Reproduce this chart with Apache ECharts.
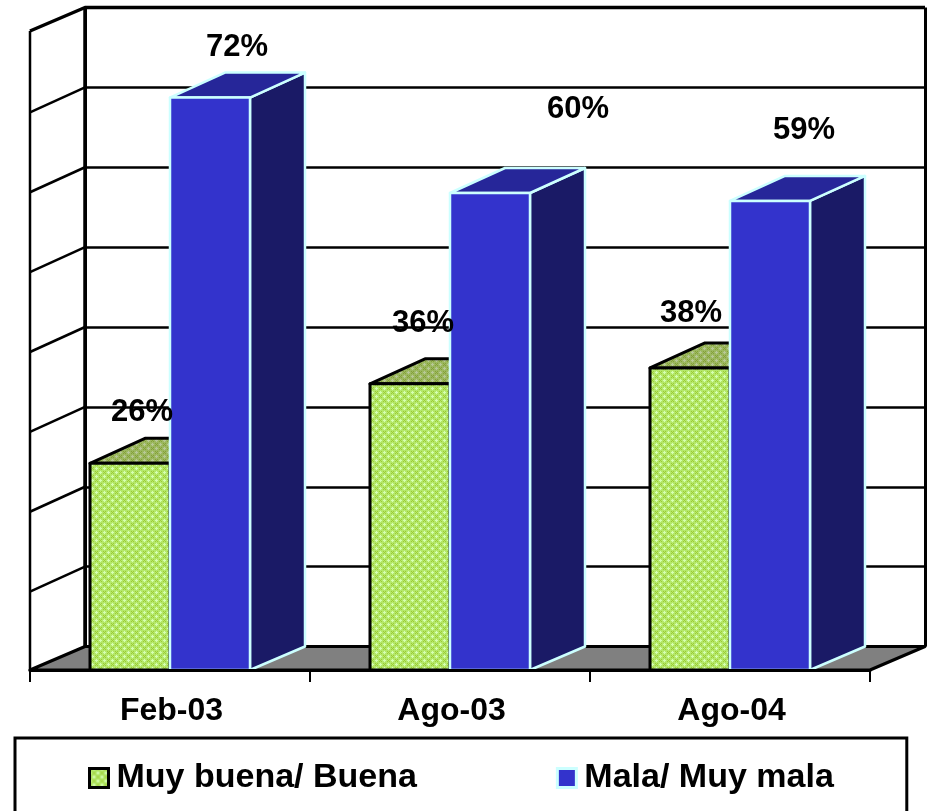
<!DOCTYPE html>
<html>
<head>
<meta charset="utf-8">
<style>html,body{margin:0;padding:0;background:#fff}#c{width:931px;height:811px}</style>
<script src="https://cdn.jsdelivr.net/npm/echarts@6/dist/echarts.min.js"></script>
</head>
<body>
<div id="c"></div>
<script>
const categories = ['Feb-03', 'Ago-03', 'Ago-04'];
const muyBuena = [26, 36, 38];
const mala = [72, 60, 59];
const seriesNames = ['Muy buena/ Buena', 'Mala/ Muy mala'];
const wallTicks = [10, 20, 30, 40, 50, 60, 70];

const FONT = '"Liberation Sans", Arial, sans-serif';
const DX = 55, DY_TOP = 25, DY_BASE = 23.5, BAR_W = 80;

function makePattern(base, lattice, dot) {
  const p = 8, cv = document.createElement('canvas');
  cv.width = p; cv.height = p;
  const g = cv.getContext('2d');
  g.fillStyle = base; g.fillRect(0, 0, p, p);
  g.fillStyle = lattice;
  [[0,0],[4,4],[1,1],[3,3],[5,5],[7,7],[1,7],[3,5],[5,3],[7,1]].forEach(a => g.fillRect(a[0], a[1], 1, 1));
  g.fillStyle = dot;
  [[4,0],[3,0],[5,0],[4,1],[4,7],[0,4],[1,4],[7,4],[0,3],[0,5]].forEach(a => g.fillRect(a[0], a[1], 1, 1));
  return { image: cv, repeat: 'repeat' };
}
const greenFront = makePattern('#b4e86a', '#9ccc33', '#d6ffb4');
const greenTop = makePattern('#9cb860', '#84a038', '#b8c898');

function bar3d(offsetDir, colors, line, lw) {
  return function (params, api) {
    const top = api.coord([api.value(0), api.value(1)]);
    const base = api.coord([api.value(0), 0]);
    const x0 = offsetDir < 0 ? top[0] - BAR_W : top[0];
    const x1 = x0 + BAR_W;
    const sh = { stroke: line, lineWidth: lw, lineJoin: 'round' };
    return {
      type: 'group',
      children: [
        { type: 'polygon', shape: { points: [[x1, top[1]], [x1 + DX, top[1] - DY_TOP], [x1 + DX, base[1] - DY_BASE], [x1, base[1]]] },
          style: Object.assign({ fill: colors[2] }, sh) },
        { type: 'polygon', shape: { points: [[x0, top[1]], [x0 + DX, top[1] - DY_TOP], [x1 + DX, top[1] - DY_TOP], [x1, top[1]]] },
          style: Object.assign({ fill: colors[1] }, sh) },
        { type: 'rect', shape: { x: x0, y: top[1], width: x1 - x0, height: base[1] - top[1] },
          style: Object.assign({ fill: colors[0] }, sh) }
      ]
    };
  };
}

const labelOffsets = [
  [[12, -51], [13, -60], [1, -54]],
  [[27, -50], [88, -84], [34, -70]]
];

const chart = echarts.init(document.getElementById('c'), null, { renderer: 'canvas' });
chart.setOption({
  animation: false,
  backgroundColor: '#fff',
  grid: [
    { left: 30, top: 34, width: 840, height: 636 },
    { left: 85, top: 7.5, width: 840, height: 639 }
  ],
  xAxis: [
    { type: 'category', gridIndex: 0, data: categories, z: 5,
      axisLine: { show: true, onZero: false, lineStyle: { color: '#000', width: 3 } },
      axisTick: { show: true, length: 12, lineStyle: { color: '#000', width: 2 } },
      axisLabel: { color: '#000', fontFamily: FONT, fontWeight: 'bold', fontSize: 32, margin: 25, padding: [0, 0, 0, 3] },
      splitLine: { show: false } },
    { type: 'value', gridIndex: 1, min: 0, max: 1, interval: 1,
      axisLine: { show: false }, axisTick: { show: false }, axisLabel: { show: false },
      splitLine: { show: true, lineStyle: { color: '#000', width: 3, type: 'solid' } } }
  ],
  yAxis: [
    { type: 'value', gridIndex: 0, min: 0, max: 80, interval: 10,
      axisLine: { show: false }, axisTick: { show: false }, axisLabel: { show: false }, splitLine: { show: false } },
    { type: 'value', gridIndex: 1, min: 0, max: 80, interval: 10,
      axisLine: { show: false }, axisTick: { show: false }, axisLabel: { show: false },
      splitLine: { show: true, lineStyle: { color: '#000', width: 2.5, type: 'solid' } } }
  ],
  legend: {
    show: true, left: 15, top: 738, orient: 'horizontal',
    padding: [23, 73, 38, 73], itemGap: 139, itemWidth: 19, itemHeight: 19,
    borderColor: '#000', borderWidth: 3, backgroundColor: '#fff',
    selectedMode: false,
    textStyle: { color: '#000', fontFamily: FONT, fontWeight: 'bold', fontSize: 34, padding: [0, 0, 0, 3] },
    data: [
      { name: seriesNames[0], icon: 'rect', itemStyle: { color: greenFront, borderColor: '#000', borderWidth: 3 } },
      { name: seriesNames[1], icon: 'rect', itemStyle: { color: '#3333cc', borderColor: '#ccffff', borderWidth: 3 } }
    ]
  },
  series: [
    { type: 'custom', name: 'pared', xAxisIndex: 1, yAxisIndex: 1, z: 1, silent: true, clip: false,
      data: wallTicks.map(v => [0, v]),
      encode: { x: 0, y: 1 },
      renderItem: function (params, api) {
        const back = api.coord([0, api.value(1)]);
        const children = [
          { type: 'line', shape: { x1: back[0], y1: back[1], x2: back[0] - DX, y2: back[1] + 25 },
            style: { stroke: '#000', lineWidth: 2.5 } }
        ];
        if (params.dataIndex === 0) {
          const b0 = api.coord([0, 0]), b1 = api.coord([1, 0]), t0 = api.coord([0, 80]), t1 = api.coord([1, 80]);
          children.push(
            { type: 'polygon', shape: { points: [[b0[0] - DX, b0[1] + DY_BASE], b0, b1, [b1[0] - DX, b1[1] + DY_BASE]] },
              style: { fill: '#808080', stroke: '#000', lineWidth: 3, lineJoin: 'round' } },
            { type: 'polyline', shape: { points: [[b0[0] - DX, t0[1] + DY_BASE], t0, t1] }, style: { stroke: '#000', lineWidth: 3.5, fill: null, lineJoin: 'round' } },
            { type: 'line', shape: { x1: b0[0], y1: t0[1], x2: b0[0], y2: b0[1] }, style: { stroke: '#000', lineWidth: 3.5 } },
            { type: 'line', shape: { x1: b0[0] - DX, y1: t0[1] + DY_BASE, x2: b0[0] - DX, y2: b0[1] + DY_BASE }, style: { stroke: '#000', lineWidth: 2.5 } }
          );
        }
        return { type: 'group', children: children };
      }
    },
    { type: 'custom', name: seriesNames[0], xAxisIndex: 0, yAxisIndex: 0, z: 3, silent: true, clip: false,
      itemStyle: { color: '#b4e86a' },
      data: categories.map((c, i) => [i, muyBuena[i]]),
      encode: { x: 0, y: 1 },
      renderItem: bar3d(-1, [greenFront, greenTop, greenTop], '#000', 3) },
    { type: 'custom', name: seriesNames[1], xAxisIndex: 0, yAxisIndex: 0, z: 4, silent: true, clip: false,
      itemStyle: { color: '#3333cc' },
      data: categories.map((c, i) => [i, mala[i]]),
      encode: { x: 0, y: 1 },
      renderItem: bar3d(1, ['#3333cc', '#262699', '#1a1a66'], '#ccffff', 2.5) },
    { type: 'custom', name: 'etiquetas', xAxisIndex: 0, yAxisIndex: 0, z: 6, silent: true, clip: false,
      data: [].concat(
        categories.map((c, i) => [i, muyBuena[i], 0, i]),
        categories.map((c, i) => [i, mala[i], 1, i])
      ),
      encode: { x: 0, y: 1 },
      renderItem: function (params, api) {
        const s = api.value(2), i = api.value(3), v = api.value(1);
        const p = api.coord([i, v]);
        const cx = p[0] + (s === 0 ? -BAR_W / 2 : BAR_W / 2);
        const o = labelOffsets[s][i];
        return { type: 'text', x: cx + o[0], y: p[1] + o[1],
          style: { text: v + '%', fill: '#000', font: 'bold 31px ' + FONT, align: 'center', verticalAlign: 'middle' } };
      }
    }
  ]
});
</script>
</body>
</html>
